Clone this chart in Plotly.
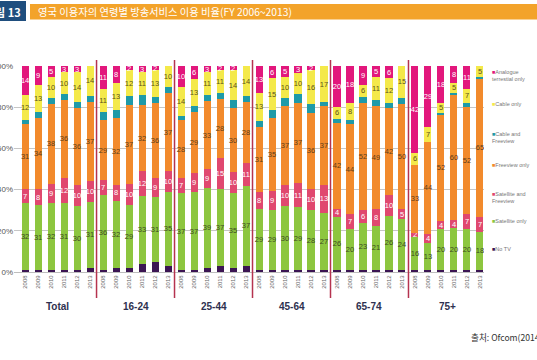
import plotly.graph_objects as go

groups = ["Total", "16-24", "25-44", "45-64", "65-74", "75+"]
years = ["2008", "2009", "2010", "2011", "2012", "2013"]

series_names = ["No TV", "Satellite only", "Satellite and<br>Freeview", "Freeview only",
                "Cable and<br>Freeview", "Cable only", "Analogue<br>terrestial only"]
series_colors = ["#3b1553", "#8dc63f", "#e0486f", "#f28a2c", "#1e9aa8", "#f4e94a", "#e2177c"]
label_colors = [None, "#3e4a22", "#ffffff", "#5e3d1a", None, "#5b5220", "#ffffff"]

no_tv = [1, 1, 1, 1, 1, 2, 1, 2, 2, 4, 5, 3, 1, 1, 2, 3, 2, 3,
         1, 1, 1, 1, 1, 1, 1, 1, 1, 1, 1, 1, 1, 1, 1, 1, 1, 1]
satellite = [32, 31, 32, 31, 30, 31, 36, 32, 29, 33, 31, 35, 37, 37, 39, 37, 35, 37,
             29, 29, 30, 29, 28, 27, 26, 20, 23, 21, 26, 24, 16, 13, 20, 20, 20, 18]
sat_freeview = [7, 8, 9, 12, 10, 10, 7, 8, 10, 12, 9, 10, 7, 9, 9, 15, 10, 11,
                8, 9, 10, 11, 10, 13, 4, 7, 6, 8, 10, 5, 2, 4, 4, 4, 7, 7]
freeview = [31, 34, 38, 36, 36, 37, 29, 32, 37, 32, 36, 37, 28, 29, 33, 28, 30, 28,
            31, 35, 37, 37, 36, 37, 42, 44, 52, 49, 42, 50, 33, 44, 52, 60, 52, 65]
cable_freeview = [2, 3, 3, 3, 3, 3, 4, 4, 4, 5, 3, 3, 2, 3, 3, 3, 4, 3,
                  3, 4, 4, 4, 4, 2, 2, 2, 3, 3, 2, 3, 0, 0, 1, 1, 2, 1]
cable = [12, 13, 10, 10, 14, 14, 11, 13, 12, 11, 13, 10, 14, 13, 11, 11, 14, 14,
         13, 15, 10, 10, 16, 17, 6, 8, 6, 11, 12, 15, 6, 7, 5, 5, 7, 5]
analogue = [14, 9, 5, 3, 3, 0, 11, 8, 2, 3, 2, 0, 10, 6, 3, 2, 2, 0,
            13, 6, 5, 3, 2, 0, 20, 18, 9, 5, 6, 0, 42, 29, 18, 8, 11, 0]

series_values = [no_tv, satellite, sat_freeview, freeview, cable_freeview, cable, analogue]

title_text = "영국 이용자의 연령별 방송서비스 이용 비율(FY 2006~2013)"
fig_label = "그림 13"
source_text = "출처: Ofcom(2014)"

categories = [f"{g}|{y}" for g in groups for y in years]

W, H = 537, 360
L, R, T, B = 14, 484, 66, 272


def px_x(px):
    return (px - L) / (R - L)


def px_y(py):
    return (B - py) / (B - T)


fig = go.Figure()
for name, vals, col, lcol in zip(series_names, series_values, series_colors, label_colors):
    if lcol is None:
        texts = [""] * len(vals)
    else:
        texts = [str(v) if v > 0 else "" for v in vals]
    fig.add_trace(go.Bar(
        x=categories, y=vals, name=name.replace("<br>", " "),
        marker=dict(color=col, line=dict(width=0)),
        text=texts, textposition="inside", insidetextanchor="middle",
        textangle=0, constraintext="none",
        textfont=dict(size=7.5, color=lcol if lcol else "#000",
                      family="Liberation Sans, Arial, sans-serif"),
        showlegend=False, hoverinfo="skip",
    ))

n = len(categories)
fig.update_layout(
    width=W, height=H,
    margin=dict(l=L, r=W - R, t=T, b=H - B, autoexpand=False),
    paper_bgcolor="white", plot_bgcolor="white",
    barmode="stack", barnorm="percent", bargap=0.46,
    font=dict(family="Liberation Sans, Arial, sans-serif"),
    xaxis=dict(
        type="category", categoryorder="array", categoryarray=categories,
        range=[-0.85, n - 1 + 0.31], automargin=False,
        tickmode="array", tickvals=categories,
        ticktext=[y for g in groups for y in years],
        tickangle=-90, tickfont=dict(size=6, color="#666666"),
        showgrid=False, showline=True, linecolor="#bdbdbd", linewidth=1,
        ticks="", ticklen=0,
    ),
    yaxis=dict(
        range=[0, 100], tickmode="array", tickvals=[0, 20, 40, 60, 80, 100],
        ticktext=["0%", "20%", "40%", "60%", "80%", "100%"], automargin=False,
        tickfont=dict(size=8, color="#555555"),
        showgrid=True, gridcolor="#c6c6c6", gridwidth=1,
        zeroline=False, showline=False, ticks="",
    ),
)

shapes = []
annotations = []

# group separators
for gi in range(1, len(groups)):
    xpos = gi * len(years) - 0.5
    shapes.append(dict(type="line", xref="x", yref="paper", x0=xpos, x1=xpos,
                       y0=px_y(298), y1=px_y(60),
                       line=dict(color="#b5334f", width=1.5)))

# group labels
for gi, g in enumerate(groups):
    cx = gi * len(years) + (len(years) - 1) / 2
    annotations.append(dict(x=cx, xref="x", y=px_y(306), yref="paper", text=f"<b>{g}</b>",
                            showarrow=False, font=dict(size=10, color="#2e3150"),
                            xanchor="center", yanchor="middle"))

# header bar
shapes.append(dict(type="rect", xref="paper", yref="paper", x0=px_x(-2), x1=px_x(26),
                   y0=px_y(21), y1=px_y(1), fillcolor="#1f4e7e", line=dict(width=0)))
shapes.append(dict(type="rect", xref="paper", yref="paper", x0=px_x(30), x1=px_x(540),
                   y0=px_y(19.5), y1=px_y(4), fillcolor="#f3a32a", line=dict(width=0)))
annotations.append(dict(x=px_x(23), y=px_y(11.5), xref="paper", yref="paper",
                        text=f"<b>{fig_label}</b>", showarrow=False,
                        xanchor="right", yanchor="middle",
                        font=dict(size=11, color="white", family="Noto Sans CJK KR")))
annotations.append(dict(x=px_x(36), y=px_y(11.5), xref="paper", yref="paper",
                        text=title_text, showarrow=False,
                        xanchor="left", yanchor="middle",
                        font=dict(size=10.3, color="white", family="Noto Sans CJK KR")))

# legend (top = last series)
legend_y = [247, 219, 192, 163, 132, 102, 70]
for name, col, ly in zip(series_names, series_colors, legend_y):
    annotations.append(dict(x=px_x(490), y=px_y(ly - 3), xref="paper", yref="paper",
                            text=f'<span style="color:{col}">■</span>{name}',
                            showarrow=False, xanchor="left", yanchor="top", align="left",
                            font=dict(size=5.5, color="#777777")))

# source
annotations.append(dict(x=px_x(469), y=px_y(337), xref="paper", yref="paper",
                        text=source_text, showarrow=False, xanchor="left", yanchor="middle",
                        font=dict(size=8.6, color="#333333", family="Noto Sans CJK KR")))

fig.update_layout(shapes=shapes, annotations=annotations)
fig.write_html("out.html", config={"displayModeBar": False},
               post_script="document.body.style.margin='0';")
